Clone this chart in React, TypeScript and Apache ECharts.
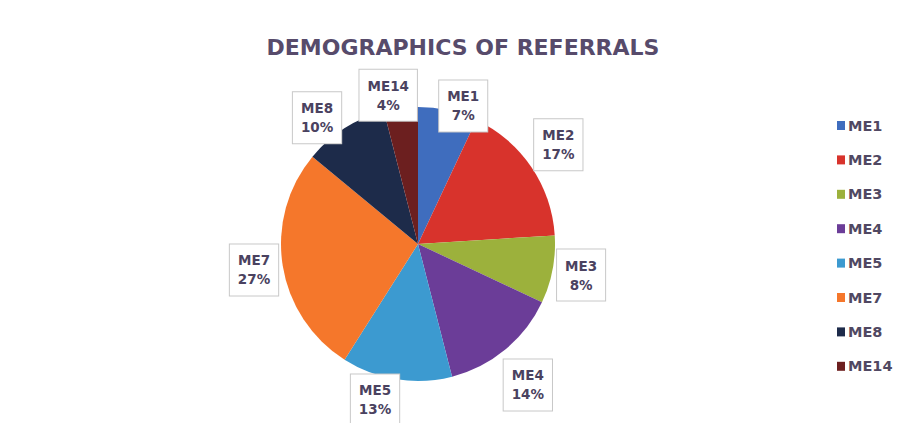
import React, { useEffect, useRef } from "react";
import * as echarts from "echarts";

const categories = ["ME1", "ME2", "ME3", "ME4", "ME5", "ME7", "ME8", "ME14"];
const values = [7, 17, 8, 14, 13, 27, 10, 4];
const colors = ["#3F6DBE", "#D8332C", "#9CB13C", "#6B3D98", "#3C9AD0", "#F5772B", "#1D2B4A", "#6C1F1F"];
const titleText = "DEMOGRAPHICS OF REFERRALS";

// label nudges (layout only)
const labelNudges: Record<string, [number, number]> = {
  ME1: [9, 24],
  ME2: [3, -6],
  ME4: [4, 13],
  ME5: [-17, -8],
  ME8: [-12, 14],
  ME14: [-9, 16],
};

export default function App() {
  const ref = useRef<HTMLDivElement>(null);
  useEffect(() => {
    document.body.style.margin = "0";
    const chart = echarts.init(ref.current!, null, { renderer: "svg" });
    const R = 137;
    const data = categories.map((name, i) => ({ name, value: values[i] }));
    const labelData = categories.map((name, i) => ({
      name,
      value: values[i],
      label: labelNudges[name] ? { offset: labelNudges[name] } : {},
    }));
    chart.setOption({
      animation: false,
      backgroundColor: "#ffffff",
      color: colors,
      title: {
        text: titleText,
        left: 458,
        top: 31,
        textAlign: "center",
        textStyle: { fontFamily: "DejaVu Sans", fontWeight: "bold", fontSize: 22, color: "#574B6B" },
      },
      legend: {
        orient: "vertical",
        left: 832,
        top: 113,
        itemWidth: 8,
        itemHeight: 9,
        itemGap: 19.4,
        icon: "rect",
        data: categories,
        textStyle: { fontFamily: "DejaVu Sans", fontWeight: "bold", fontSize: 14.5, color: "#504862", lineHeight: 14, padding: [0, 0, 0, -2] },
      },
      series: [
        {
          type: "pie",
          center: [418, 244],
          radius: R,
          startAngle: 90,
          clockwise: true,
          label: { show: false },
          labelLine: { show: false },
          itemStyle: { borderWidth: 0 },
          emphasis: { disabled: true },
          data,
        },
        {
          type: "pie",
          center: [418, 244],
          radius: [R, R * 1.38],
          startAngle: 90,
          clockwise: true,
          silent: true,
          legendHoverLink: false,
          itemStyle: { color: "transparent", borderWidth: 0 },
          emphasis: { disabled: true },
          labelLine: { show: false },
          label: {
            show: true,
            position: "inside",
            formatter: "{b}\n{d}%",
            fontFamily: "DejaVu Sans",
            fontWeight: "bold",
            fontSize: 13.5,
            lineHeight: 19,
            color: "#4A4260",
            backgroundColor: "#ffffff",
            borderColor: "#C8C8C8",
            borderWidth: 1,
            padding: [7, 8, 6, 8],
            align: "center",
          },
          data: labelData,
        },
      ],
    });
    return () => chart.dispose();
  }, []);
  return <div ref={ref} style={{ position: "absolute", left: 0, top: 0, width: 903, height: 423 }} />;
}
